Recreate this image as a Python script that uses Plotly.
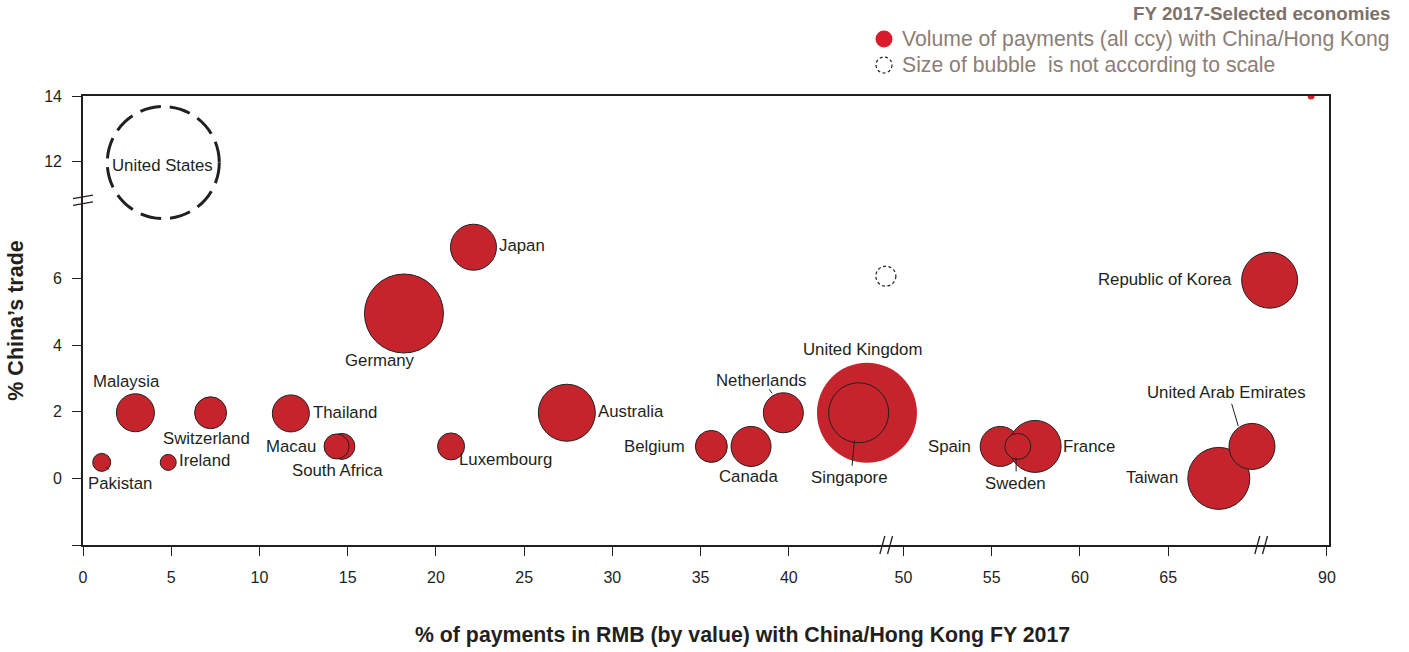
import numpy as np
import plotly.graph_objects as go

# ---------------- data ----------------
countries = ["Pakistan", "Malaysia", "Ireland", "Switzerland", "Thailand", "South Africa",
             "Macau", "Germany", "Luxembourg", "Japan", "Australia", "Belgium", "Canada",
             "Netherlands", "United Kingdom", "Singapore", "Spain", "France", "Sweden",
             "Taiwan", "United Arab Emirates", "Republic of Korea"]
rmb_share = [1.06, 2.97, 4.83, 7.23, 11.78, 14.67, 14.37, 18.19, 20.86, 22.13, 27.42, 35.61,
             37.86, 39.69, 44.43, 43.96, 55.48, 57.46, 56.48, 67.87, 69.75, 70.75]
china_trade = [0.48, 1.97, 0.48, 1.97, 1.95, 0.96, 0.96, 4.95, 0.96, 6.94, 1.97, 0.96, 0.96,
               1.97, 1.97, 1.97, 0.96, 0.96, 0.96, 0.0, 0.96, 5.95]
payment_volume = [18, 38, 16, 32, 37, 26, 25, 79, 27, 46, 57, 32, 40, 40, 100, 60, 40, 52,
                  26, 62, 46, 56]

# bubbles not drawn to scale (dashed)
ns_names = ["United States", ""]
ns_rmb = [4.55, 47.0]
ns_trade = [11.97, 6.07]
ns_volume = [112, 20]

# small marker at the top right corner
corner_rmb = [89.1]
corner_trade = [14.0]

x_tick_values = [0, 5, 10, 15, 20, 25, 30, 35, 40, 50, 55, 60, 65, 90]
y_tick_values = [-2, 0, 2, 4, 6, 12, 14]
y_tick_labels = ["", "0", "2", "4", "6", "12", "14"]

# broken axes: real value -> drawn position
x_break_real = [0, 45.5, 49.0, 71.2, 87.2, 90.0]
x_break_axis = [0, 45.5, 45.5, 67.7, 67.7, 70.5]
y_break_real = [-2, 8.3, 10.77, 14.0]
y_break_axis = [-2, 8.3, 8.3, 11.48]


def fx(v):
    return np.interp(v, x_break_real, x_break_axis)


def fy(v):
    return np.interp(v, y_break_real, y_break_axis)


# ---------------- styling ----------------
RED = "#c6242c"
INK = "#231f20"
LEGEND_INK = "#8c7e76"
FONT = "Liberation Sans, Arial, Helvetica, sans-serif"
LABEL_SIZE = 16.8
W, H = 1409, 652
L, R, T, B = 83, 80, 96, 107

# label placement: (xanchor, dx px, dy px up)
label_style = {
    "Pakistan": ("center", 18, -21),
    "Malaysia": ("center", -9, 31),
    "Ireland": ("left", 9, 1.5),
    "Switzerland": ("center", -4, -26),
    "Thailand": ("left", 20, 1),
    "South Africa": ("center", -4, -24.5),
    "Macau": ("right", -19, 0),
    "Germany": ("center", -24, -47),
    "Luxembourg": ("left", 6, -13),
    "Japan": ("left", 24, 2),
    "Australia": ("left", 29, 1),
    "Belgium": ("right", -24, 0),
    "Canada": ("center", -2.5, -30.5),
    "Netherlands": ("center", -22, 32.5),
    "United Kingdom": ("center", -4, 63),
    "Singapore": ("center", -9.5, -64.5),
    "Spain": ("right", -27, 0),
    "France": ("left", 26, 0),
    "Sweden": ("center", -2, -37.5),
    "Taiwan": ("right", -39, 1),
    "United Arab Emirates": ("center", -25, 53.5),
    "Republic of Korea": ("right", -35.5, 0.5),
}
leaders = {
    "Netherlands": (-14, 23.4, -11.3, 19.4),
    "United Arab Emirates": (-20.3, 42.7, -13.7, 20.3),
    "Singapore": (-4.3, -27.7, -6.6, -53),
    "Sweden": (-1.7, -11.3, -1.7, -25),
    "Pakistan": (4.2, -4.4, 7.5, -7),
}

xd = fx(rmb_share)
yd = fy(china_trade)
line_w = [0 if c == "United Kingdom" else 1 for c in countries]

fig = go.Figure()
fig.add_trace(go.Scatter(
    x=xd, y=yd, mode="markers",
    marker=dict(size=payment_volume, sizemode="diameter", sizeref=1, color=RED,
                opacity=1, line=dict(color=INK, width=line_w)),
    hovertext=countries, hoverinfo="text",
))
fig.add_trace(go.Scatter(
    x=fx(corner_rmb), y=fy(corner_trade), mode="markers",
    marker=dict(size=7, color="#e0202e", line=dict(width=0)), hoverinfo="skip",
))

x_range = [0, (W - L - R + 0.0) / 17.645]
shapes = []
annotations = []

# dashed "not to scale" circles
for name, xv, yv, sz in zip(ns_names, fx(ns_rmb), fy(ns_trade), ns_volume):
    big = sz > 50
    r = sz / 2
    shapes.append(dict(type="circle", xref="x", yref="y", xsizemode="pixel", ysizemode="pixel",
                       xanchor=xv, yanchor=yv, x0=-r, x1=r, y0=-r, y1=r,
                       line=dict(color=INK, width=3 if big else 1.2,
                                 dash="21px,9px" if big else "3px,2.5px"),
                       fillcolor="rgba(0,0,0,0)"))
    if name:
        annotations.append(dict(x=xv, y=yv, xref="x", yref="y", text=name, showarrow=False,
                                xanchor="center", yanchor="middle", yshift=-2.5, xshift=-1,
                                font=dict(size=LABEL_SIZE, color=INK, family=FONT)))

# country labels
for c, xv, yv in zip(countries, xd, yd):
    anc, dx, dy = label_style[c]
    annotations.append(dict(x=xv, y=yv, xref="x", yref="y", text=c, showarrow=False,
                            xanchor=anc, yanchor="middle", xshift=dx, yshift=dy,
                            font=dict(size=LABEL_SIZE, color=INK, family=FONT)))
    if c in leaders:
        a, b, cc, d = leaders[c]
        shapes.append(dict(type="line", xref="x", yref="y", xsizemode="pixel", ysizemode="pixel",
                           xanchor=xv, yanchor=yv, x0=a, y0=b, x1=cc, y1=d,
                           line=dict(color=INK, width=1)))

# axis break marks
for xb in [45.5, 66.75]:
    for off in [0, 7.7]:
        shapes.append(dict(type="line", xref="x", yref="paper", xsizemode="pixel",
                           ysizemode="pixel", xanchor=xb, yanchor=0,
                           x0=-6 + off, y0=-9, x1=-1 + off, y1=9,
                           line=dict(color=INK, width=1.3)))
for off in [0, -6.7]:
    shapes.append(dict(type="line", xref="paper", yref="y", xsizemode="pixel", ysizemode="pixel",
                       xanchor=0, yanchor=8.3, x0=-10, y0=3.3 + off, x1=10, y1=6.7 + off,
                       line=dict(color=INK, width=1.3)))


def px2paper_x(px):
    return (px - L) / (W - L - R)


def px2paper_y(py):
    return (H - B - py) / (H - T - B)


# legend
shapes.append(dict(type="circle", xref="paper", yref="paper", xsizemode="pixel", ysizemode="pixel",
                   xanchor=px2paper_x(884), yanchor=px2paper_y(39), x0=-8.5, x1=8.5, y0=-8.5, y1=8.5,
                   fillcolor="#d81c2c", line=dict(width=0)))
shapes.append(dict(type="circle", xref="paper", yref="paper", xsizemode="pixel", ysizemode="pixel",
                   xanchor=px2paper_x(884), yanchor=px2paper_y(65), x0=-8, x1=8, y0=-8, y1=8,
                   fillcolor="rgba(0,0,0,0)", line=dict(width=1.2, color=INK, dash="3px,2.5px")))
annotations.append(dict(x=px2paper_x(1393), y=px2paper_y(14), xref="paper", yref="paper",
                        text="<b>FY 2017-Selected economies</b>", showarrow=False,
                        xanchor="right", yanchor="middle",
                        font=dict(size=18.8, color="#7e716a", family=FONT)))
annotations.append(dict(x=px2paper_x(900), y=px2paper_y(39), xref="paper", yref="paper",
                        text="Volume of payments (all ccy) with China/Hong Kong", showarrow=False,
                        xanchor="left", yanchor="middle",
                        font=dict(size=21.2, color=LEGEND_INK, family=FONT)))
annotations.append(dict(x=px2paper_x(900), y=px2paper_y(65), xref="paper", yref="paper",
                        text="Size of bubble  is not according to scale", showarrow=False,
                        xanchor="left", yanchor="middle",
                        font=dict(size=21.2, color=LEGEND_INK, family=FONT)))

# x-axis title
annotations.append(dict(x=px2paper_x(743), y=px2paper_y(635), xref="paper", yref="paper",
                        text="<b>% of payments in RMB (by value) with China/Hong Kong FY 2017</b>",
                        showarrow=False, xanchor="center", yanchor="middle",
                        font=dict(size=21.3, color=INK, family=FONT)))

fig.update_layout(
    width=W, height=H, margin=dict(l=L, r=R, t=T, b=B, autoexpand=False),
    plot_bgcolor="white", paper_bgcolor="white", showlegend=False,
    font=dict(family=FONT, color=INK),
    shapes=shapes, annotations=annotations,
    xaxis=dict(range=x_range, showgrid=False, zeroline=False, showline=True, linecolor=INK,
               linewidth=1.6, mirror=True, ticks="outside", ticklen=9, tickwidth=1,
               tickcolor=INK, tickmode="array", tickvals=fx(x_tick_values),
               ticktext=[str(v) for v in x_tick_values], tickfont=dict(size=16, color=INK),
               ticklabelstandoff=8, fixedrange=True, automargin=False),
    yaxis=dict(range=[-2, 11.48], showgrid=False, zeroline=False, showline=True, linecolor=INK,
               linewidth=1.6, mirror=True, ticks="outside", ticklen=9, tickwidth=1,
               tickcolor=INK, tickmode="array", tickvals=fy(y_tick_values),
               ticktext=y_tick_labels, tickfont=dict(size=16, color=INK),
               ticklabelstandoff=7, fixedrange=True, automargin=False,
               title=dict(text="<b>% China\u2019s trade</b>", standoff=15,
                          font=dict(size=21.5, color=INK, family=FONT))),
)

fig.write_html("out.html", config={"displayModeBar": False},
               post_script="document.body.style.margin='0';document.body.style.overflow='hidden';")
